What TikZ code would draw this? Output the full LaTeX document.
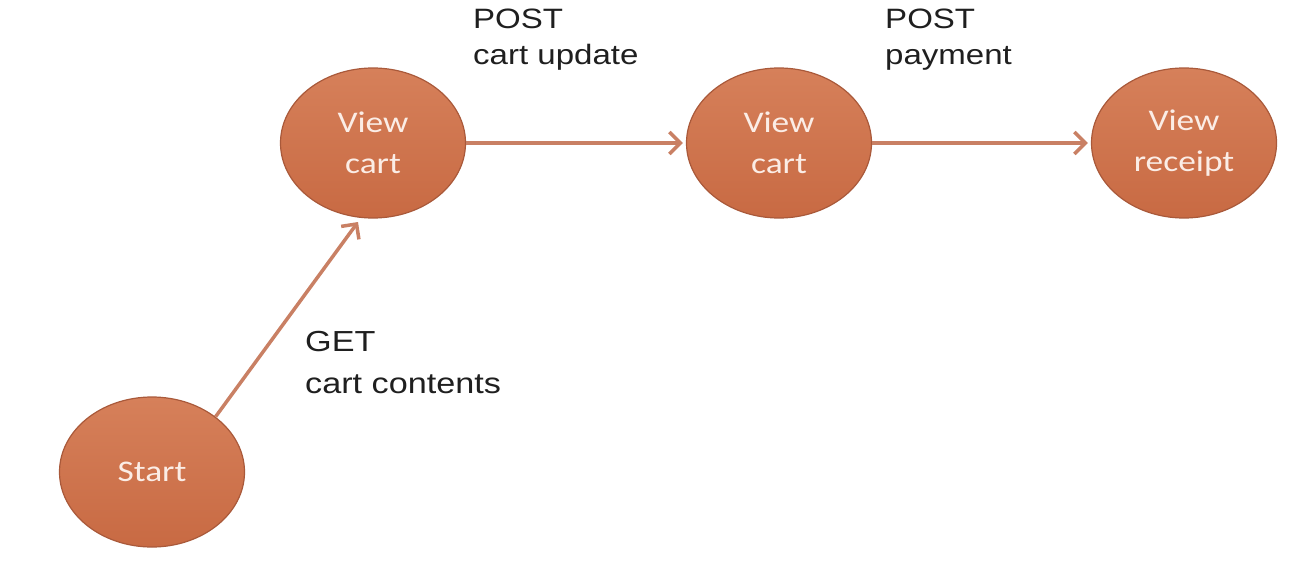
\documentclass[tikz,border=0pt]{standalone}
\usepackage{fontspec}
\setmainfont{Liberation Sans}
\newfontfamily\calib{Carlito}
\usetikzlibrary{arrows.meta,shapes.geometric}
\definecolor{nodetop}{HTML}{D6805A}
\definecolor{nodebot}{HTML}{C86A43}
\definecolor{nodeedge}{HTML}{A9593A}
\definecolor{arrowc}{HTML}{C98064}
\definecolor{nodetext}{HTML}{FBEDE6}
\newcommand{\wideit}[1]{\scalebox{1.18}[1]{#1}}
\begin{document}
\begin{tikzpicture}[x=1pt,y=-1pt,
  state/.style={ellipse,minimum width=185pt,minimum height=150pt,inner sep=0pt,
    top color=nodetop,bottom color=nodebot,draw=nodeedge,line width=1.2pt,
    font=\calib\fontsize{30}{41}\selectfont,text=nodetext,align=center},
  flow/.style={draw=arrowc,line width=3.5pt,-{Straight Barb[length=11pt,width=22pt,line width=3.5pt]}},
  lbl/.style={text=black!88,align=left,anchor=north west,inner sep=0pt}
]
\useasboundingbox (0,0) rectangle (1308,565);
\node[state] (start) at (152,472) {\wideit{Start}};
\node[state] (vc1) at (373,143) {\wideit{View}\\\wideit{cart}};
\node[state] (vc2) at (779,143) {\wideit{View}\\\wideit{cart}};
\node[state] (vr) at (1184,143) {\wideit{View}\\\wideit{receipt}};
\coordinate (t1) at (358,222);
\draw[flow] (start.41) -- (t1);
\draw[flow] (vc1.east) -- ([xshift=-3pt]vc2.west);
\draw[flow] (vc2.east) -- ([xshift=-3pt]vr.west);
\node[lbl,font=\fontsize{28}{36}\selectfont] (l1) at (473,9) {\wideit{POST}\\\wideit{cart update}};
\node[lbl,font=\fontsize{28}{36}\selectfont] (l2) at (885,9) {\wideit{POST}\\\wideit{payment}};
\node[lbl,font=\fontsize{29}{42}\selectfont] (l3) at (305,331) {\wideit{GET}\\\wideit{cart contents}};
\end{tikzpicture}
\end{document}
